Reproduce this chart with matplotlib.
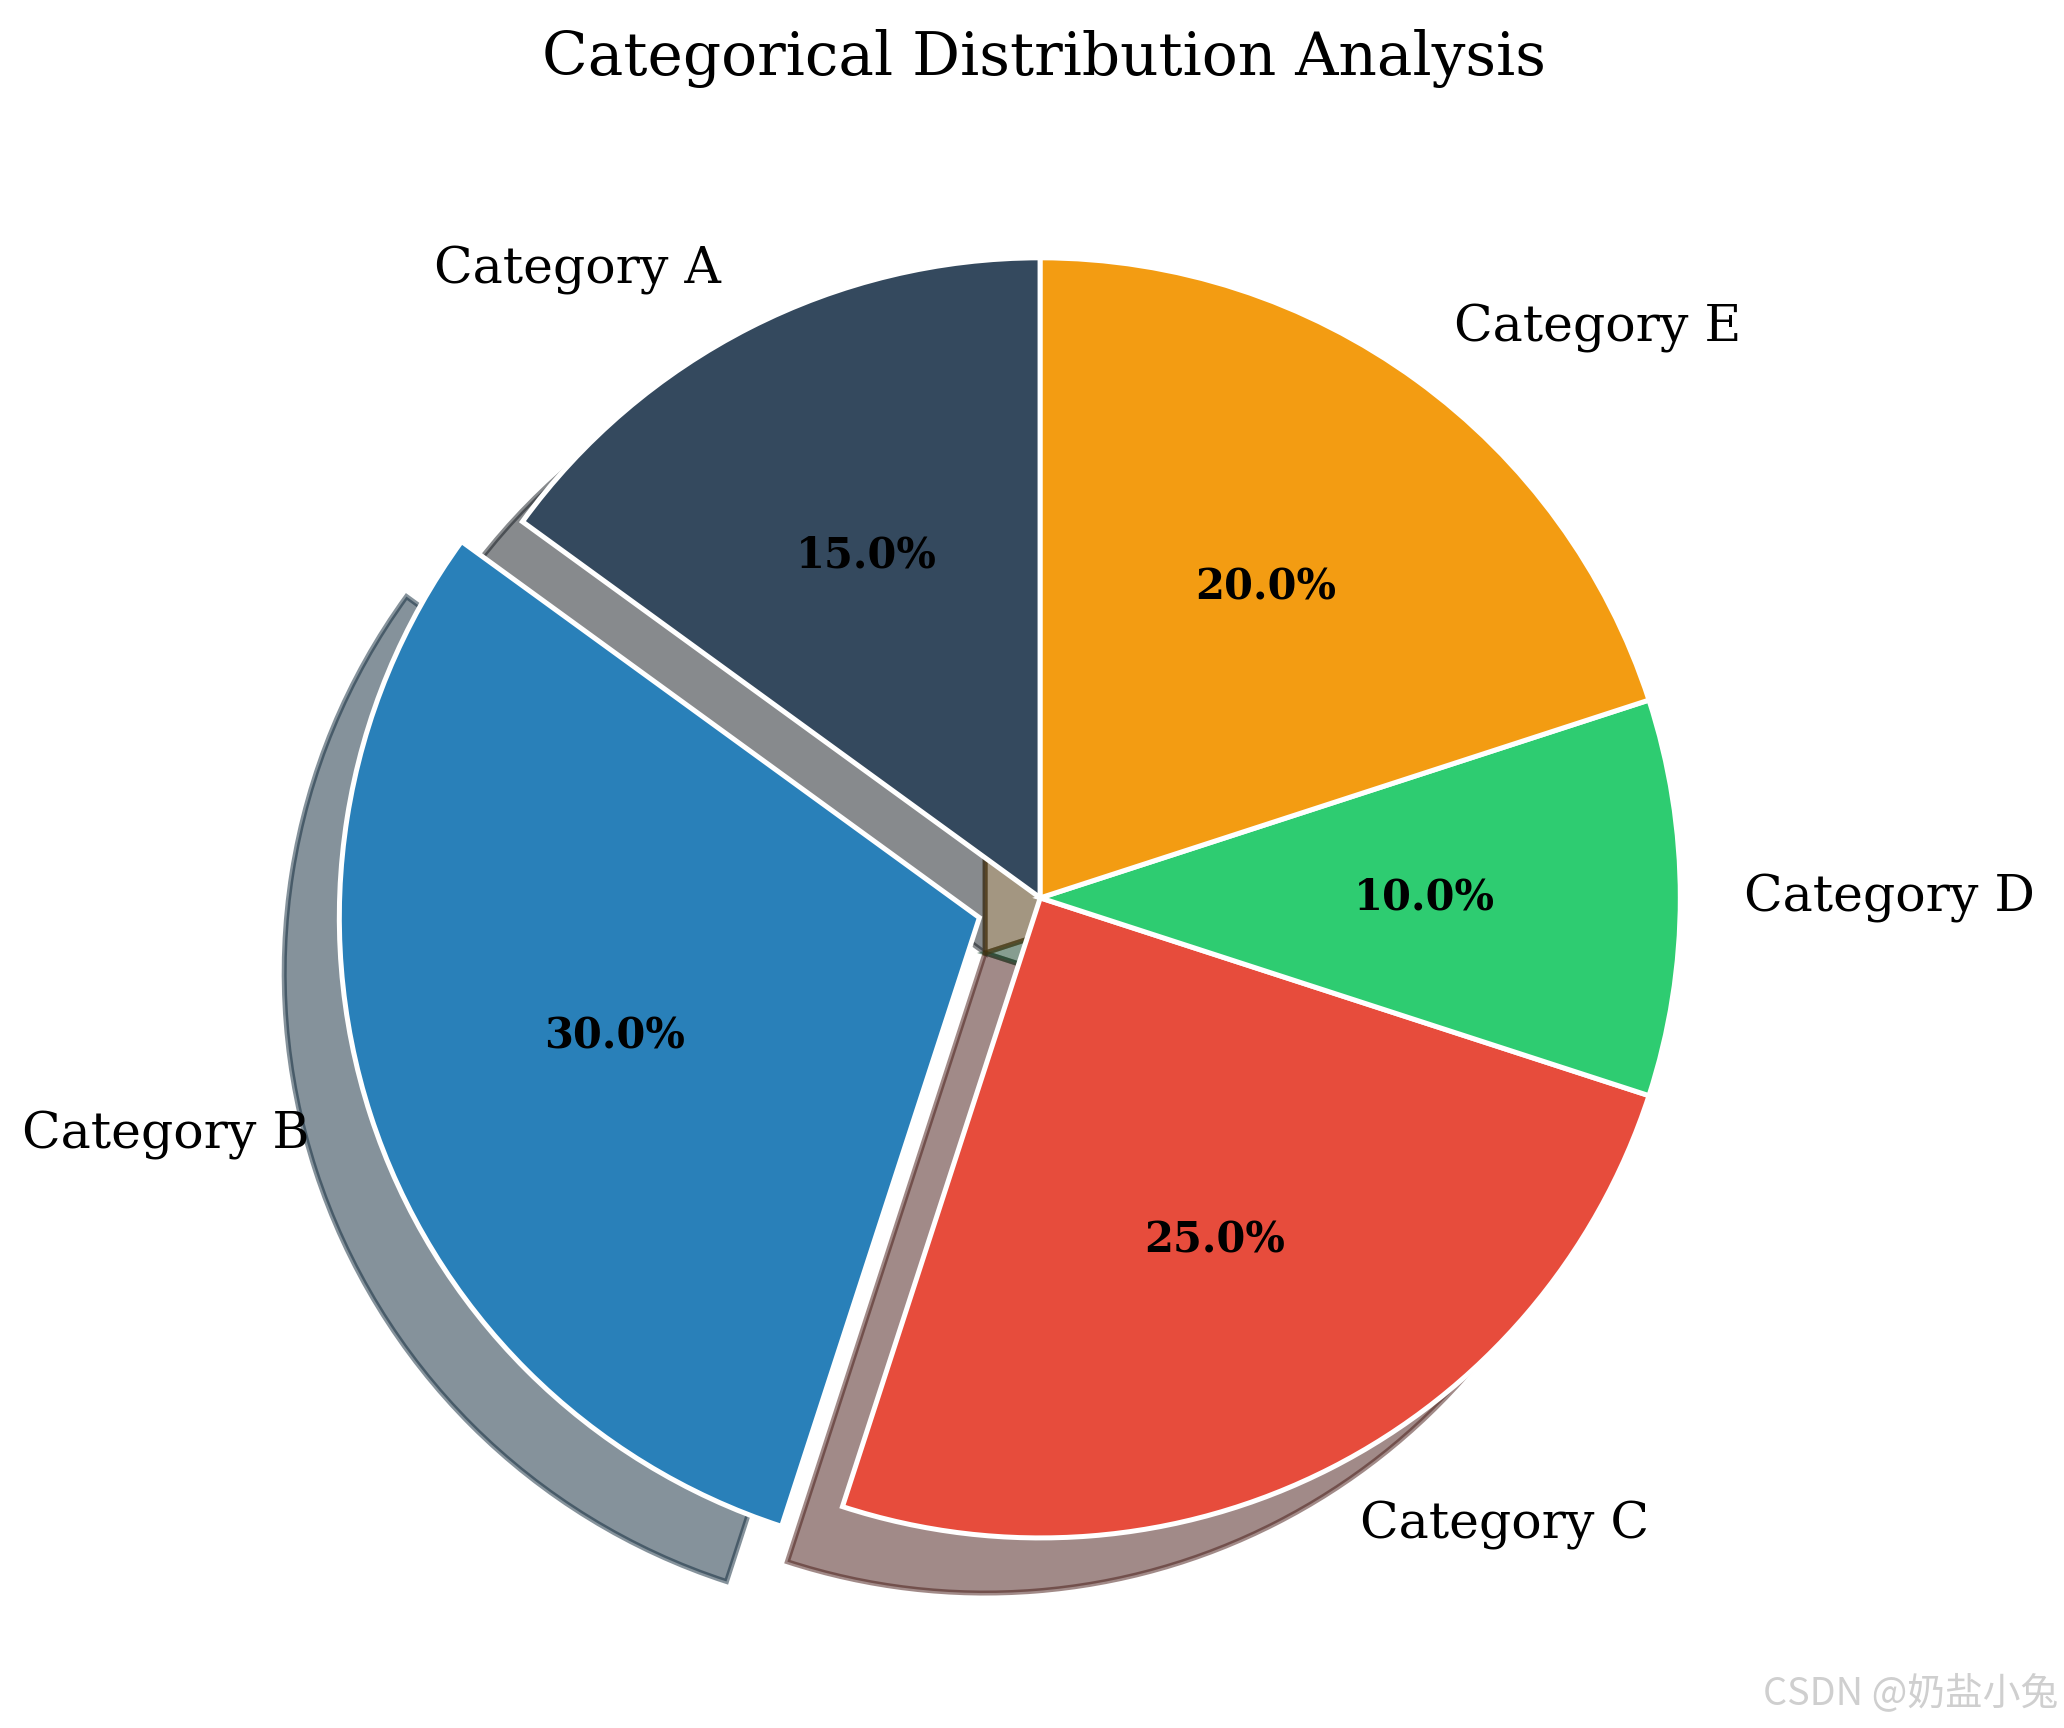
import matplotlib
matplotlib.use("Agg")
import matplotlib.pyplot as plt

plt.rcParams['font.family'] = 'DejaVu Serif'

categories = ['Category A', 'Category B', 'Category C', 'Category D', 'Category E']
shares = [15, 30, 25, 10, 20]
colors = ['#34495e', '#2980b9', '#e74c3c', '#2ecc71', '#f39c12']
explode = [0, 0.1, 0, 0, 0]


def main():
    fig = plt.figure(figsize=(10.32, 8.64), dpi=200)
    ax = fig.add_axes([0.116, 0.0174, 0.776, 0.926])

    wedges, texts, autotexts = ax.pie(
        shares, labels=categories, colors=colors, explode=explode,
        autopct='%1.1f%%', startangle=90, counterclock=True,
        shadow={'ox': -0.031, 'oy': -0.031},
        wedgeprops={'edgecolor': 'white', 'linewidth': 1.8},
        textprops={'fontsize': 18.2})
    for t in autotexts:
        t.set_fontsize(15)
        t.set_fontweight('bold')
    ax.set_aspect('equal')

    fig.text(0.506, 0.966, 'Categorical Distribution Analysis',
             ha='center', va='center', fontsize=21.5)

    fig.text(0.997, 0.02, 'CSDN @奶盐小兔', ha='right', va='center',
             fontsize=13.6, color='#cfcfcf',
             family=['Noto Sans CJK SC', 'DejaVu Sans'])

    fig.savefig('out.png', dpi=200)


if __name__ == "__main__":
    main()
